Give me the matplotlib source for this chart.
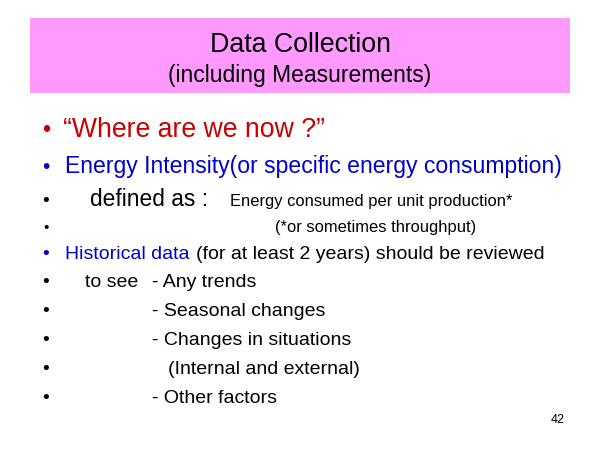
import matplotlib
matplotlib.use('Agg')
import matplotlib.pyplot as plt
from matplotlib.patches import Rectangle

plt.rcParams['font.family'] = ['Liberation Sans', 'DejaVu Sans']

# slide text
title = "Data Collection"
subtitle = "(including Measurements)"
line_where = "\u201cWhere are we now ?\u201d"
line_energy = "Energy Intensity(or specific energy consumption)"
defined_head = "defined as :"
defined_body = "Energy consumed per unit production*"
defined_note = "(*or sometimes throughput)"
hist_head = "Historical data"
hist_body = "(for at least 2 years) should be reviewed"
to_see = "to see"
see_items = ["- Any trends", "- Seasonal changes", "- Changes in situations",
             "(Internal and external)", "- Other factors"]
page_no = "42"

fig = plt.figure(figsize=(6, 4.5), dpi=100)
ax = fig.add_axes([0, 0, 1, 1])
ax.set_xlim(0, 600)
ax.set_ylim(450, 0)
ax.axis('off')

# title box
ax.add_patch(Rectangle((30, 18), 540, 75, facecolor='#FF99FF', edgecolor='none'))
ax.text(300, 52, title, ha='center', va='baseline', fontsize=19.3, color='black')
ax.text(300, 82, subtitle, ha='center', va='baseline', fontsize=16.5, color='black')

red = '#CC0000'
blue = '#0000CC'
bx = 46


def bullet(y, color='black', size=14):
    ax.text(bx, y, '\u2022', ha='center', va='baseline', fontsize=size, color=color)


bullet(137, red, 17)
ax.text(63, 137, line_where, va='baseline', fontsize=19.2, color=red)

bullet(173, blue, 15)
ax.text(65, 173, line_energy, va='baseline', fontsize=16.6, color=blue)

bullet(206)
ax.text(90, 206, defined_head, va='baseline', fontsize=16.4, color='black')
ax.text(230, 206, defined_body, va='baseline', fontsize=11.9, color='black')

bullet(232, size=11)
ax.text(275, 232, defined_note, va='baseline', fontsize=11.9, color='black')

bullet(259, blue)
ax.text(65, 259, hist_head, va='baseline', fontsize=14, color=blue)
ax.text(196, 259, hist_body, va='baseline', fontsize=14, color='black')

item_y = [287, 316, 345, 374, 403]
item_x = [152, 152, 152, 168, 152]
ax.text(85, item_y[0], to_see, va='baseline', fontsize=14, color='black')
for txt, x, y in zip(see_items, item_x, item_y):
    bullet(y)
    ax.text(x, y, txt, va='baseline', fontsize=14, color='black')

ax.text(565, 423, page_no, ha='right', va='baseline', fontsize=9, color='black')

fig.savefig('out.png', dpi=100)
